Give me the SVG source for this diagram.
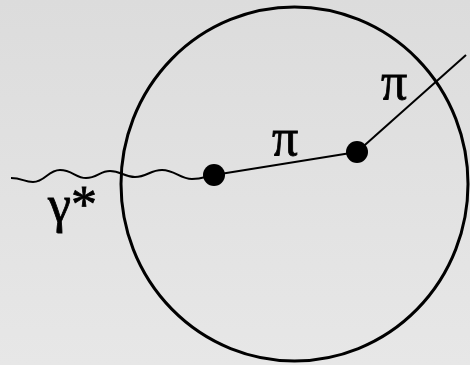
<svg xmlns="http://www.w3.org/2000/svg" width="470" height="365" viewBox="0 0 470 365">
<defs>
<linearGradient id="bg" x1="0" y1="0" x2="0" y2="1">
<stop offset="0" stop-color="#dcdcdc"/>
<stop offset="1" stop-color="#e7e7e7"/>
</linearGradient>
<style>
.ln{fill:none;stroke:#000;stroke-width:2}
.dot{fill:#000}
.lbl{font-family:"Liberation Serif","DejaVu Serif",serif;font-size:52px;fill:#000;stroke:#000;stroke-width:0.8}
</style>
</defs>
<rect width="470" height="365" fill="url(#bg)"/>
<g id="boundary">
<ellipse cx="294.5" cy="184" rx="173.5" ry="177" fill="none" stroke="#000" stroke-width="3"/>
</g>
<g id="connectors">
<path class="ln" d="M11,178 C22,178 24,182 33,182 C45,182 48,170 60,170 C72,170 76,178 86,178 C97,178 100,171 110,171 C121,171 124,177 135,177 C147,177 150,170 162,170 C175,170 180,179 192,179 C202,179 207,176 214,175"/>
<line class="ln" x1="214" y1="175" x2="357" y2="152"/>
<line class="ln" x1="357" y1="152" x2="466" y2="55"/>
</g>
<g id="vertex1"><circle class="dot" cx="214" cy="175" r="11"/></g>
<g id="vertex2"><circle class="dot" cx="357" cy="152" r="11"/></g>
<g id="label-gamma"><text class="lbl" x="48" y="222">γ*</text></g>
<g id="label-pi1"><text class="lbl" x="272" y="155">π</text></g>
<g id="label-pi2"><text class="lbl" x="381" y="99">π</text></g>
</svg>
